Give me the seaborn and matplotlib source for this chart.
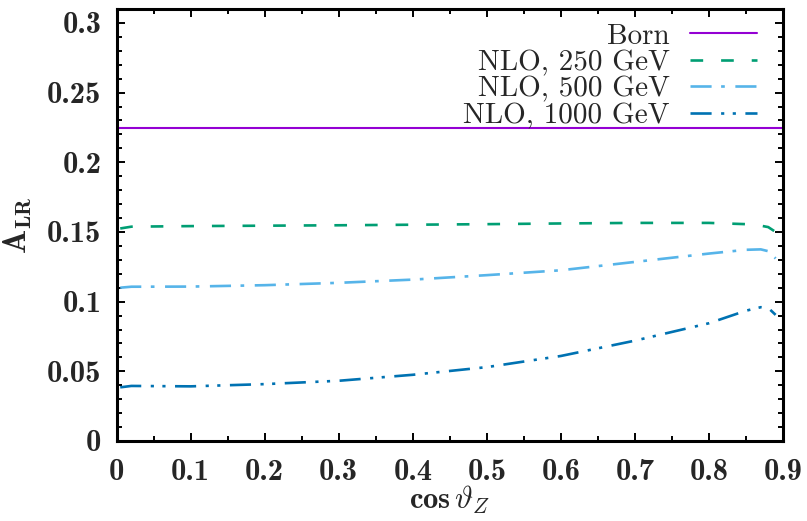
import numpy as np
import pandas as pd
import matplotlib
matplotlib.use("Agg")
import matplotlib.pyplot as plt
from matplotlib.ticker import MultipleLocator
import seaborn as sns

# cos(theta_Z) sample points and left-right asymmetry values
cos_theta = [0.005, 0.02, 0.1, 0.2, 0.3, 0.4, 0.5, 0.6, 0.7, 0.8, 0.85, 0.87, 0.88, 0.89]
born = [0.2245] * len(cos_theta)
nlo_250 = [0.1525, 0.1538, 0.1542, 0.1545, 0.1548, 0.1552, 0.1556, 0.1561, 0.1565, 0.1565,
           0.1556, 0.1545, 0.1535, 0.1500]
nlo_500 = [0.1100, 0.1107, 0.1108, 0.1118, 0.1135, 0.1158, 0.1190, 0.1225, 0.1285, 0.1345,
           0.1372, 0.1375, 0.1362, 0.1310]
nlo_1000 = [0.0385, 0.0395, 0.0392, 0.0408, 0.0432, 0.0475, 0.0530, 0.0610, 0.0720, 0.0845,
            0.0935, 0.0960, 0.0955, 0.0905]

labels = ["Born", "NLO, 250 GeV", "NLO, 500 GeV", "NLO, 1000 GeV"]
colors = ["#9400d3", "#009e73", "#56b4e9", "#0072b2"]
styles = ["-", (0, (4.8, 6.8)), (0, (8, 3.6, 1.4, 4)), (0, (8, 3.6, 1.2, 3.2, 1.2, 3.6))]
widths = [1.5, 1.9, 1.9, 1.9]

x_ticks = [0, 0.1, 0.2, 0.3, 0.4, 0.5, 0.6, 0.7, 0.8, 0.9]
x_tick_labels = ["0", "0.1", "0.2", "0.3", "0.4", "0.5", "0.6", "0.7", "0.8", "0.9"]
y_ticks = [0, 0.05, 0.1, 0.15, 0.2, 0.25, 0.3]
y_tick_labels = ["0", "0.05", "0.1", "0.15", "0.2", "0.25", "0.3"]

sns.set_style("ticks")
plt.rcParams["mathtext.fontset"] = "cm"
plt.rcParams["font.family"] = ["cmr10", "DejaVu Serif"]
plt.rcParams["axes.formatter.use_mathtext"] = True

fig = plt.figure(figsize=(8.07, 5.21), dpi=100)
ax = fig.add_axes([0.1444, 0.1536, 0.8259, 0.8291])

series = [born, nlo_250, nlo_500, nlo_1000]
for vals, lab, col, ls, lw in zip(series, labels, colors, styles, widths):
    df = pd.DataFrame({"cos": cos_theta, "alr": vals})
    if lab == "Born":
        df = pd.DataFrame({"cos": [0.0, 0.9], "alr": [vals[0], vals[0]]})
    sns.lineplot(data=df, x="cos", y="alr", color=col, linestyle=ls, linewidth=lw,
                 label=lab, ax=ax, sort=True)

ax.set_xlim(0, 0.9)
ax.set_ylim(0, 0.31)
ax.set_xticks(x_ticks)
ax.set_xticklabels(x_tick_labels, fontfamily="cmb10", fontsize=22)
ax.set_yticks(y_ticks)
ax.set_yticklabels(y_tick_labels, fontfamily="cmb10", fontsize=22)
ax.xaxis.set_minor_locator(MultipleLocator(0.05))
ax.yaxis.set_minor_locator(MultipleLocator(0.01))
ax.tick_params(which="both", direction="in", top=True, right=True, width=1.4, color="black")
ax.tick_params(which="major", length=6)
ax.tick_params(axis="y", which="major", pad=11)
ax.tick_params(axis="x", which="major", pad=13)
ax.tick_params(which="minor", length=3.5)
for sp in ax.spines.values():
    sp.set_linewidth(2.2)
    sp.set_color("black")

ax.set_xlabel(r"$\mathbf{cos}\,\vartheta_Z$", fontsize=22, va="bottom")
ax.xaxis.set_label_coords(0.5, -0.174)
ax.set_ylabel(r"$\mathbf{A}_{\mathbf{LR}}$", fontsize=23, labelpad=9)

leg = ax.legend(loc="upper right", markerfirst=False, frameon=False, fontsize=21,
                handlelength=2.3, handletextpad=0.7, labelspacing=0.0,
                borderaxespad=0.0, borderpad=0.0, bbox_to_anchor=(0.961, 0.967))

fig.savefig("out.png", dpi=100)
